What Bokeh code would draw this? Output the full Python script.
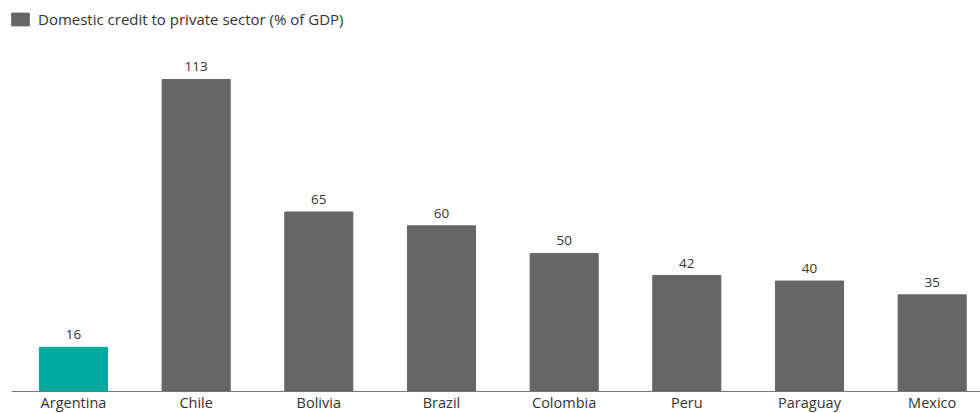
from bokeh.plotting import figure
from bokeh.models import (ColumnDataSource, Range1d, Legend, LegendItem, LabelSet, Span)
from bokeh.core.properties import value
from bokeh.embed import file_html
from bokeh.resources import INLINE

# Domestic credit to private sector, % of GDP
countries = ["Argentina", "Chile", "Bolivia", "Brazil", "Colombia", "Peru", "Paraguay", "Mexico"]
credit = [16, 113, 65, 60, 50, 42, 40, 35]
bar_colors = ["#00a99d", "#666666", "#666666", "#666666", "#666666", "#666666", "#666666", "#666666"]
legend_label = "Domestic credit to private sector (% of GDP)"

FONT = "Open Sans"
TEXT = "#333333"

positions = list(range(len(countries)))
source = ColumnDataSource(data=dict(
    x=positions,
    base=[0] * len(countries),
    credit=credit,
    color=bar_colors,
    label=[str(v) for v in credit],
    name=countries,
))

# the frame runs to the bottom edge; the strip below zero holds the category names
p = figure(width=980, height=413, output_backend="svg", toolbar_location=None,
           x_range=Range1d(-0.505, 7.394), y_range=Range1d(-7.97, 139.8),
           min_border_left=11, min_border_right=0, min_border_top=5, min_border_bottom=0)
p.outline_line_color = None
p.background_fill_color = "white"
p.border_fill_color = "white"
p.grid.visible = False
p.xaxis.visible = False
p.yaxis.visible = False

bars = p.vbar(x="x", top="credit", bottom=0, width=0.555, color="color", source=source)

# baseline along the category axis
p.add_layout(Span(location=0, dimension="width", line_color="#777777", line_width=1))

# value labels above each bar
p.add_layout(LabelSet(x="x", y="credit", text="label", source=source,
                      text_align="center", text_baseline="alphabetic", y_offset=8,
                      text_font=value(FONT), text_font_size="13.5px", text_color=TEXT))

# category names under the baseline
p.add_layout(LabelSet(x="x", y="base", text="name", source=source,
                      text_align="center", text_baseline="alphabetic", y_offset=-17,
                      text_font=value(FONT), text_font_size="14.5px", text_color=TEXT))

legend = Legend(items=[LegendItem(label=legend_label, renderers=[bars], index=1)],
                location=(-2, 384), padding=0, margin=0, spacing=0,
                glyph_width=22, glyph_height=16, label_height=16, label_standoff=7,
                label_text_font=FONT, label_text_font_size="15px", label_text_color=TEXT,
                border_line_color=None, background_fill_alpha=0)
p.add_layout(legend)

open("out.html", "w").write(file_html(p, INLINE))
